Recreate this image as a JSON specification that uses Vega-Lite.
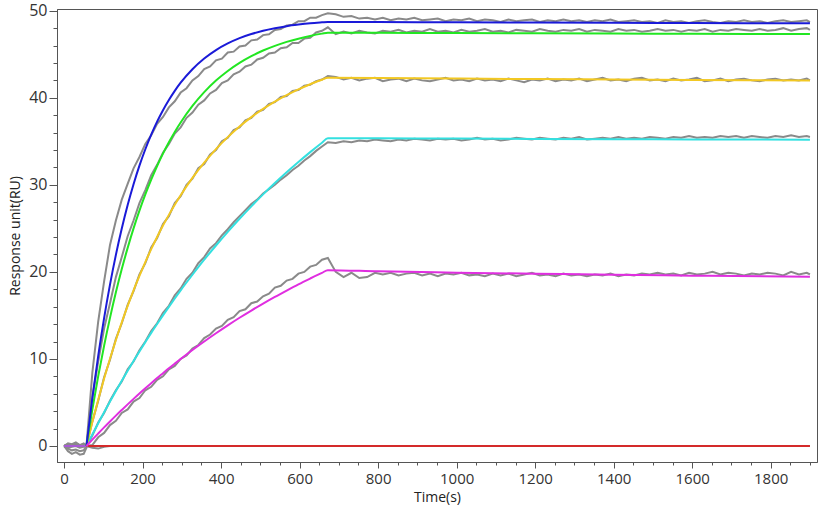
{
  "$schema": "https://vega.github.io/schema/vega-lite/v6.json",
  "width": 760,
  "height": 453,
  "autosize": {"type": "none"},
  "padding": {"left": 57, "top": 9, "right": 7, "bottom": 60},
  "background": "white",
  "config": {
    "view": {"stroke": "#555555", "strokeWidth": 1},
    "axis": {
      "domainColor": "#555555",
      "tickColor": "#555555",
      "labelColor": "#333333",
      "titleColor": "#222222",
      "labelFont": "Open Sans",
      "titleFont": "Open Sans",
      "titleFontWeight": "normal",
      "labelOverlap": false,
      "grid": false
    }
  },
  "datasets": {
    "raw": [
      {"t":0,"g1":0.0,"g2":0.0,"g3":0.1,"g4":0.0,"g5":-0.1,"g6":0.0},
      {"t":10,"g1":0.3,"g2":-0.6,"g3":-0.3,"g4":0.2,"g5":-0.2,"g6":0.1},
      {"t":20,"g1":0.2,"g2":-0.9,"g3":-0.5,"g4":0.0,"g5":-0.1,"g6":0.0},
      {"t":30,"g1":0.4,"g2":-0.7,"g3":-0.4,"g4":0.3,"g5":0.0,"g6":0.1},
      {"t":40,"g1":0.1,"g2":-1.0,"g3":-0.6,"g4":0.1,"g5":-0.2,"g6":0.0},
      {"t":50,"g1":0.3,"g2":-0.9,"g3":-0.5,"g4":0.2,"g5":-0.1,"g6":0.0},
      {"t":57,"g1":0.0,"g2":-0.2,"g3":0.0,"g4":0.0,"g5":0.0,"g6":0.0},
      {"t":72,"g1":8.4,"g2":5.6,"g3":2.8,"g4":1.2,"g5":0.1,"g6":-0.2},
      {"t":87,"g1":14.3,"g2":9.7,"g3":5.2,"g4":2.7,"g5":1.0,"g6":-0.3},
      {"t":102,"g1":18.9,"g2":13.5,"g3":7.9,"g4":3.8,"g5":1.5,"g6":-0.1},
      {"t":117,"g1":23.1,"g2":16.4,"g3":9.9,"g4":5.2,"g5":2.4,"g6":0.0},
      {"t":132,"g1":25.9,"g2":19.4,"g3":12.3,"g4":6.4,"g5":2.9,"g6":0.0},
      {"t":147,"g1":28.3,"g2":21.7,"g3":14.1,"g4":7.4,"g5":3.8,"g6":0.0},
      {"t":162,"g1":30.1,"g2":24.1,"g3":16.2,"g4":8.8,"g5":4.2,"g6":0.0},
      {"t":177,"g1":31.9,"g2":25.9,"g3":17.8,"g4":9.7,"g5":5.1,"g6":0.0},
      {"t":192,"g1":33.2,"g2":27.9,"g3":19.7,"g4":11.0,"g5":5.5,"g6":0.0},
      {"t":207,"g1":34.7,"g2":29.4,"g3":21.0,"g4":12.0,"g5":6.4,"g6":0.0},
      {"t":222,"g1":35.7,"g2":31.1,"g3":22.8,"g4":13.2,"g5":6.8,"g6":0.0},
      {"t":237,"g1":37.0,"g2":32.3,"g3":23.9,"g4":14.1,"g5":7.6,"g6":0.0},
      {"t":252,"g1":37.8,"g2":33.7,"g3":25.5,"g4":15.3,"g5":8.0,"g6":0.0},
      {"t":267,"g1":38.9,"g2":34.7,"g3":26.4,"g4":16.1,"g5":8.8,"g6":0.0},
      {"t":282,"g1":39.6,"g2":35.9,"g3":27.9,"g4":17.3,"g5":9.2,"g6":0.0},
      {"t":297,"g1":40.6,"g2":36.6,"g3":28.7,"g4":18.1,"g5":10.0,"g6":0.0},
      {"t":312,"g1":41.1,"g2":37.7,"g3":30.0,"g4":19.2,"g5":10.4,"g6":0.0},
      {"t":327,"g1":42.0,"g2":38.3,"g3":30.7,"g4":19.9,"g5":11.2,"g6":0.0},
      {"t":342,"g1":42.5,"g2":39.2,"g3":31.9,"g4":21.0,"g5":11.6,"g6":0.0},
      {"t":357,"g1":43.3,"g2":39.7,"g3":32.4,"g4":21.7,"g5":12.4,"g6":0.0},
      {"t":372,"g1":43.6,"g2":40.5,"g3":33.5,"g4":22.7,"g5":12.8,"g6":0.0},
      {"t":387,"g1":44.3,"g2":40.9,"g3":34.0,"g4":23.3,"g5":13.5,"g6":0.0},
      {"t":402,"g1":44.5,"g2":41.7,"g3":35.0,"g4":24.2,"g5":13.8,"g6":0.0},
      {"t":417,"g1":45.2,"g2":42.0,"g3":35.4,"g4":24.9,"g5":14.5,"g6":0.0},
      {"t":432,"g1":45.3,"g2":42.7,"g3":36.3,"g4":25.7,"g5":14.8,"g6":0.0},
      {"t":447,"g1":45.9,"g2":43.0,"g3":36.6,"g4":26.4,"g5":15.5,"g6":0.0},
      {"t":462,"g1":46.0,"g2":43.6,"g3":37.4,"g4":27.1,"g5":15.7,"g6":0.0},
      {"t":477,"g1":46.6,"g2":43.8,"g3":37.7,"g4":27.8,"g5":16.4,"g6":0.0},
      {"t":492,"g1":46.7,"g2":44.4,"g3":38.4,"g4":28.3,"g5":16.6,"g6":0.0},
      {"t":507,"g1":47.2,"g2":44.6,"g3":38.6,"g4":29.0,"g5":17.2,"g6":0.0},
      {"t":522,"g1":47.3,"g2":45.1,"g3":39.3,"g4":29.5,"g5":17.5,"g6":0.0},
      {"t":537,"g1":47.8,"g2":45.2,"g3":39.5,"g4":30.0,"g5":18.2,"g6":0.0},
      {"t":552,"g1":47.9,"g2":45.7,"g3":40.1,"g4":30.6,"g5":18.4,"g6":0.0},
      {"t":567,"g1":48.3,"g2":45.8,"g3":40.2,"g4":31.1,"g5":19.0,"g6":0.0},
      {"t":582,"g1":48.4,"g2":46.3,"g3":40.8,"g4":31.7,"g5":19.2,"g6":0.0},
      {"t":597,"g1":48.8,"g2":46.3,"g3":40.9,"g4":32.2,"g5":19.8,"g6":0.0},
      {"t":612,"g1":48.8,"g2":46.8,"g3":41.4,"g4":32.8,"g5":20.0,"g6":0.0},
      {"t":627,"g1":49.2,"g2":46.9,"g3":41.5,"g4":33.3,"g5":20.6,"g6":0.0},
      {"t":642,"g1":49.2,"g2":47.5,"g3":41.9,"g4":33.9,"g5":20.8,"g6":0.0},
      {"t":657,"g1":49.5,"g2":47.7,"g3":42.1,"g4":34.4,"g5":21.4,"g6":0.0},
      {"t":672,"g1":49.7,"g2":48.1,"g3":42.5,"g4":34.9,"g5":21.6,"g6":0.0},
      {"t":692,"g1":49.6,"g2":47.3,"g3":42.4,"g4":34.8,"g5":20.0,"g6":0.0},
      {"t":712,"g1":49.3,"g2":47.6,"g3":42.1,"g4":35.0,"g5":19.4,"g6":0.0},
      {"t":732,"g1":49.4,"g2":47.4,"g3":42.3,"g4":34.9,"g5":19.9,"g6":0.0},
      {"t":752,"g1":49.1,"g2":47.7,"g3":42.0,"g4":35.1,"g5":19.3,"g6":0.0},
      {"t":772,"g1":49.2,"g2":47.5,"g3":42.2,"g4":35.0,"g5":19.4,"g6":0.0},
      {"t":792,"g1":49.0,"g2":47.4,"g3":42.3,"g4":35.2,"g5":19.9,"g6":0.0},
      {"t":812,"g1":49.2,"g2":47.7,"g3":41.9,"g4":35.1,"g5":19.7,"g6":0.0},
      {"t":832,"g1":48.9,"g2":47.6,"g3":42.1,"g4":35.0,"g5":19.9,"g6":0.0},
      {"t":852,"g1":49.1,"g2":47.8,"g3":42.2,"g4":35.2,"g5":19.6,"g6":0.0},
      {"t":872,"g1":49.0,"g2":47.5,"g3":41.9,"g4":35.1,"g5":19.8,"g6":0.0},
      {"t":892,"g1":49.2,"g2":47.7,"g3":42.2,"g4":35.3,"g5":19.9,"g6":0.0},
      {"t":912,"g1":48.9,"g2":47.6,"g3":42.0,"g4":35.2,"g5":19.6,"g6":0.0},
      {"t":932,"g1":49.0,"g2":47.9,"g3":41.9,"g4":35.1,"g5":19.8,"g6":0.0},
      {"t":952,"g1":49.1,"g2":47.6,"g3":42.1,"g4":35.3,"g5":19.5,"g6":0.0},
      {"t":972,"g1":48.8,"g2":47.7,"g3":42.3,"g4":35.2,"g5":19.8,"g6":0.0},
      {"t":992,"g1":49.0,"g2":47.5,"g3":42.0,"g4":35.3,"g5":19.7,"g6":0.0},
      {"t":1012,"g1":48.9,"g2":47.8,"g3":42.1,"g4":35.1,"g5":19.9,"g6":0.0},
      {"t":1032,"g1":49.1,"g2":47.6,"g3":41.9,"g4":35.2,"g5":19.6,"g6":0.0},
      {"t":1052,"g1":48.8,"g2":47.7,"g3":42.2,"g4":35.4,"g5":19.7,"g6":0.0},
      {"t":1072,"g1":49.0,"g2":47.9,"g3":42.0,"g4":35.2,"g5":19.5,"g6":0.0},
      {"t":1092,"g1":48.9,"g2":47.6,"g3":42.1,"g4":35.3,"g5":19.8,"g6":0.0},
      {"t":1112,"g1":48.7,"g2":47.7,"g3":41.9,"g4":35.1,"g5":19.6,"g6":0.0},
      {"t":1132,"g1":49.0,"g2":47.5,"g3":42.2,"g4":35.2,"g5":19.8,"g6":0.0},
      {"t":1152,"g1":48.8,"g2":47.8,"g3":42.0,"g4":35.4,"g5":19.5,"g6":0.0},
      {"t":1172,"g1":48.9,"g2":47.7,"g3":41.8,"g4":35.3,"g5":19.7,"g6":0.0},
      {"t":1192,"g1":49.0,"g2":47.6,"g3":42.1,"g4":35.2,"g5":19.9,"g6":0.0},
      {"t":1212,"g1":48.7,"g2":47.9,"g3":42.0,"g4":35.4,"g5":19.6,"g6":0.0},
      {"t":1232,"g1":48.9,"g2":47.7,"g3":42.2,"g4":35.3,"g5":19.7,"g6":0.0},
      {"t":1252,"g1":48.8,"g2":47.6,"g3":41.9,"g4":35.2,"g5":19.5,"g6":0.0},
      {"t":1272,"g1":49.0,"g2":47.8,"g3":42.1,"g4":35.4,"g5":19.8,"g6":0.0},
      {"t":1292,"g1":48.8,"g2":47.7,"g3":42.0,"g4":35.3,"g5":19.6,"g6":0.0},
      {"t":1312,"g1":48.9,"g2":47.9,"g3":42.2,"g4":35.5,"g5":19.7,"g6":0.0},
      {"t":1332,"g1":48.7,"g2":47.6,"g3":41.9,"g4":35.2,"g5":19.5,"g6":0.0},
      {"t":1352,"g1":48.9,"g2":47.8,"g3":42.1,"g4":35.3,"g5":19.7,"g6":0.0},
      {"t":1372,"g1":48.8,"g2":47.7,"g3":42.3,"g4":35.4,"g5":19.6,"g6":0.0},
      {"t":1392,"g1":49.0,"g2":47.6,"g3":42.0,"g4":35.3,"g5":19.8,"g6":0.0},
      {"t":1412,"g1":48.7,"g2":47.9,"g3":42.1,"g4":35.5,"g5":19.5,"g6":0.0},
      {"t":1432,"g1":48.8,"g2":47.7,"g3":41.9,"g4":35.3,"g5":19.7,"g6":0.0},
      {"t":1452,"g1":48.9,"g2":47.8,"g3":42.2,"g4":35.4,"g5":19.6,"g6":0.0},
      {"t":1472,"g1":48.7,"g2":47.6,"g3":42.3,"g4":35.3,"g5":19.8,"g6":0.0},
      {"t":1492,"g1":48.8,"g2":47.7,"g3":42.0,"g4":35.5,"g5":19.7,"g6":0.0},
      {"t":1512,"g1":48.6,"g2":47.9,"g3":42.1,"g4":35.4,"g5":19.9,"g6":0.0},
      {"t":1532,"g1":48.9,"g2":47.7,"g3":41.9,"g4":35.3,"g5":19.7,"g6":0.0},
      {"t":1552,"g1":48.7,"g2":47.8,"g3":42.2,"g4":35.5,"g5":19.8,"g6":0.0},
      {"t":1572,"g1":48.8,"g2":47.6,"g3":42.0,"g4":35.4,"g5":19.6,"g6":0.0},
      {"t":1592,"g1":48.6,"g2":47.8,"g3":42.1,"g4":35.6,"g5":19.9,"g6":0.0},
      {"t":1612,"g1":48.8,"g2":47.7,"g3":42.3,"g4":35.4,"g5":19.7,"g6":0.0},
      {"t":1632,"g1":48.9,"g2":47.9,"g3":41.9,"g4":35.5,"g5":19.8,"g6":0.0},
      {"t":1652,"g1":48.7,"g2":47.6,"g3":42.0,"g4":35.4,"g5":20.0,"g6":0.0},
      {"t":1672,"g1":48.6,"g2":47.8,"g3":42.2,"g4":35.6,"g5":19.7,"g6":0.0},
      {"t":1692,"g1":48.8,"g2":47.7,"g3":41.9,"g4":35.5,"g5":19.9,"g6":0.0},
      {"t":1712,"g1":48.7,"g2":47.9,"g3":42.1,"g4":35.6,"g5":19.8,"g6":0.0},
      {"t":1732,"g1":48.9,"g2":47.8,"g3":42.2,"g4":35.4,"g5":19.6,"g6":0.0},
      {"t":1752,"g1":48.7,"g2":47.7,"g3":42.0,"g4":35.6,"g5":19.8,"g6":0.0},
      {"t":1772,"g1":48.8,"g2":47.9,"g3":41.9,"g4":35.5,"g5":19.7,"g6":0.0},
      {"t":1792,"g1":48.6,"g2":47.7,"g3":42.1,"g4":35.4,"g5":19.9,"g6":0.0},
      {"t":1812,"g1":48.8,"g2":47.8,"g3":42.2,"g4":35.6,"g5":19.8,"g6":0.0},
      {"t":1832,"g1":48.9,"g2":48.0,"g3":42.0,"g4":35.5,"g5":19.6,"g6":0.0},
      {"t":1852,"g1":48.7,"g2":47.7,"g3":42.1,"g4":35.7,"g5":20.0,"g6":0.0},
      {"t":1872,"g1":48.8,"g2":47.9,"g3":42.0,"g4":35.5,"g5":19.7,"g6":0.0},
      {"t":1892,"g1":48.9,"g2":48.0,"g3":42.2,"g4":35.6,"g5":19.9,"g6":0.0},
      {"t":1900,"g1":48.7,"g2":47.8,"g3":42.0,"g4":35.5,"g5":19.7,"g6":0.0}
    ],
    "fit": [
      {"t":0,"pre":0,"blue":null,"green":null,"gold":null,"cyan":null,"magenta":null,"red":null},
      {"t":57,"pre":0,"blue":0,"green":0,"gold":0,"cyan":0,"magenta":0,"red":0},
      {"t":72,"pre":null,"blue":5.49,"green":4.19,"gold":2.74,"cyan":1.32,"magenta":0.73,"red":0},
      {"t":87,"pre":null,"blue":10.36,"green":8.02,"gold":5.32,"cyan":2.61,"magenta":1.44,"red":0},
      {"t":102,"pre":null,"blue":14.69,"green":11.52,"gold":7.75,"cyan":3.88,"magenta":2.14,"red":0},
      {"t":117,"pre":null,"blue":18.53,"green":14.72,"gold":10.03,"cyan":5.11,"magenta":2.82,"red":0},
      {"t":132,"pre":null,"blue":21.95,"green":17.65,"gold":12.18,"cyan":6.31,"magenta":3.49,"red":0},
      {"t":147,"pre":null,"blue":24.98,"green":20.32,"gold":14.20,"cyan":7.49,"magenta":4.14,"red":0},
      {"t":162,"pre":null,"blue":27.68,"green":22.76,"gold":16.09,"cyan":8.64,"magenta":4.78,"red":0},
      {"t":177,"pre":null,"blue":30.07,"green":25.00,"gold":17.88,"cyan":9.76,"magenta":5.41,"red":0},
      {"t":192,"pre":null,"blue":32.20,"green":27.04,"gold":19.55,"cyan":10.86,"magenta":6.03,"red":0},
      {"t":207,"pre":null,"blue":34.09,"green":28.90,"gold":21.13,"cyan":11.93,"magenta":6.63,"red":0},
      {"t":222,"pre":null,"blue":35.77,"green":30.60,"gold":22.61,"cyan":12.99,"magenta":7.22,"red":0},
      {"t":237,"pre":null,"blue":37.26,"green":32.16,"gold":24.01,"cyan":14.01,"magenta":7.80,"red":0},
      {"t":252,"pre":null,"blue":38.58,"green":33.58,"gold":25.32,"cyan":15.01,"magenta":8.36,"red":0},
      {"t":267,"pre":null,"blue":39.75,"green":34.89,"gold":26.55,"cyan":15.98,"magenta":8.92,"red":0},
      {"t":282,"pre":null,"blue":40.80,"green":36.08,"gold":27.71,"cyan":16.94,"magenta":9.46,"red":0},
      {"t":297,"pre":null,"blue":41.73,"green":37.16,"gold":28.80,"cyan":17.88,"magenta":9.99,"red":0},
      {"t":327,"pre":null,"blue":43.28,"green":39.06,"gold":30.80,"cyan":19.67,"magenta":11.02,"red":0},
      {"t":357,"pre":null,"blue":44.51,"green":40.65,"gold":32.55,"cyan":21.40,"magenta":12.00,"red":0},
      {"t":387,"pre":null,"blue":45.48,"green":41.98,"gold":34.11,"cyan":23.03,"magenta":12.95,"red":0},
      {"t":417,"pre":null,"blue":46.24,"green":43.08,"gold":35.48,"cyan":24.60,"magenta":13.86,"red":0},
      {"t":447,"pre":null,"blue":46.85,"green":44.01,"gold":36.70,"cyan":26.10,"magenta":14.73,"red":0},
      {"t":477,"pre":null,"blue":47.32,"green":44.78,"gold":37.78,"cyan":27.53,"magenta":15.56,"red":0},
      {"t":507,"pre":null,"blue":47.70,"green":45.43,"gold":38.73,"cyan":28.90,"magenta":16.36,"red":0},
      {"t":537,"pre":null,"blue":47.99,"green":45.97,"gold":39.57,"cyan":30.20,"magenta":17.13,"red":0},
      {"t":567,"pre":null,"blue":48.23,"green":46.42,"gold":40.31,"cyan":31.44,"magenta":17.86,"red":0},
      {"t":597,"pre":null,"blue":48.41,"green":46.79,"gold":40.97,"cyan":32.62,"magenta":18.57,"red":0},
      {"t":627,"pre":null,"blue":48.56,"green":47.11,"gold":41.56,"cyan":33.76,"magenta":19.24,"red":0},
      {"t":657,"pre":null,"blue":48.67,"green":47.37,"gold":42.07,"cyan":34.84,"magenta":19.89,"red":0},
      {"t":672,"pre":null,"blue":48.72,"green":47.48,"gold":42.31,"cyan":35.36,"magenta":20.20,"red":0},
      {"t":800,"pre":null,"blue":48.70,"green":47.47,"gold":42.27,"cyan":35.34,"magenta":20.06,"red":0},
      {"t":1000,"pre":null,"blue":48.67,"green":47.44,"gold":42.21,"cyan":35.31,"magenta":19.91,"red":0},
      {"t":1200,"pre":null,"blue":48.64,"green":47.41,"gold":42.15,"cyan":35.28,"magenta":19.79,"red":0},
      {"t":1400,"pre":null,"blue":48.61,"green":47.38,"gold":42.10,"cyan":35.25,"magenta":19.67,"red":0},
      {"t":1600,"pre":null,"blue":48.58,"green":47.35,"gold":42.05,"cyan":35.22,"magenta":19.57,"red":0},
      {"t":1900,"pre":null,"blue":48.55,"green":47.32,"gold":41.98,"cyan":35.18,"magenta":19.45,"red":0}
    ]
  },
  "layer": [
    {
      "data": {"name": "raw"},
      "transform": [
        {"fold": ["g1", "g2", "g3", "g4", "g5", "g6"], "as": ["run", "ru"]}
      ],
      "mark": {"type": "line", "stroke": "#8a8a8a", "strokeWidth": 2},
      "encoding": {
        "x": {
          "field": "t",
          "type": "quantitative",
          "scale": {"domain": [-18, 1918], "nice": false, "zero": false},
          "axis": {
            "title": "Time(s)",
            "titleFontSize": 14,
            "titlePadding": 4,
            "tickCount": 100,
            "values": [0,50,100,150,200,250,300,350,400,450,500,550,600,650,700,750,800,850,900,950,1000,1050,1100,1150,1200,1250,1300,1350,1400,1450,1500,1550,1600,1650,1700,1750,1800,1850,1900],
            "labelExpr": "datum.value % 200 === 0 ? datum.label : ''",
            "format": "d",
            "labelFontSize": {"condition": {"test": "datum.value % 200 !== 0", "value": 0}, "value": 15},
            "tickSize": {"condition": {"test": "datum.value % 200 === 0", "value": 6}, "value": 3},
            "labelPadding": 3,
            "labelFlush": false
          }
        },
        "y": {
          "field": "ru",
          "type": "quantitative",
          "scale": {"domain": [-1.84, 50.2], "nice": false, "zero": false},
          "axis": {
            "title": "Response unit(RU)",
            "titleFontSize": 14,
            "titlePadding": 6,
            "tickCount": 100,
            "values": [0,2,4,6,8,10,12,14,16,18,20,22,24,26,28,30,32,34,36,38,40,42,44,46,48,50],
            "labelExpr": "datum.value % 10 === 0 ? datum.label : ''",
            "format": "d",
            "labelFontSize": {"condition": {"test": "datum.value % 10 !== 0", "value": 0}, "value": 16},
            "tickSize": {"condition": {"test": "datum.value % 10 === 0", "value": 8}, "value": 4},
            "labelPadding": 2,
            "labelFlush": false
          }
        },
        "detail": {"field": "run", "type": "nominal"}
      }
    },
    {
      "data": {"name": "fit"},
      "transform": [
        {"fold": ["pre", "red", "cyan", "gold", "green", "blue", "magenta"], "as": ["curve", "ru"]}
      ],
      "mark": {"type": "line", "strokeWidth": 2, "interpolate": "monotone"},
      "encoding": {
        "x": {"field": "t", "type": "quantitative"},
        "y": {"field": "ru", "type": "quantitative"},
        "color": {
          "field": "curve",
          "type": "nominal",
          "scale": {
            "domain": ["pre", "red", "cyan", "gold", "green", "blue", "magenta"],
            "range": ["#a85ad6", "#d42a2a", "#33e0e0", "#f2c823", "#22e622", "#1a1ad8", "#e02ee0"]
          },
          "legend": null
        }
      }
    }
  ]
}
